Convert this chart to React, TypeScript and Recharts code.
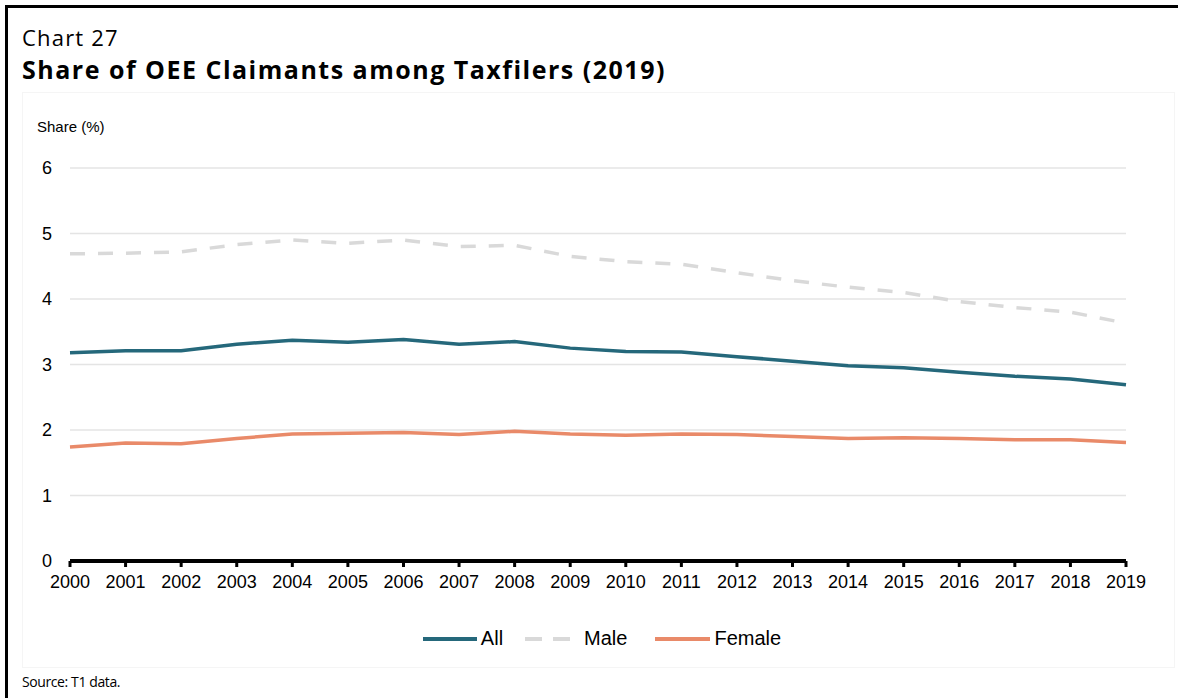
import React from 'react';
import { LineChart, Line, XAxis, YAxis, CartesianGrid, Legend } from 'recharts';

const years = ['2000', '2001', '2002', '2003', '2004', '2005', '2006', '2007', '2008', '2009', '2010', '2011', '2012', '2013', '2014', '2015', '2016', '2017', '2018', '2019'];
const allShare = [3.18, 3.21, 3.21, 3.31, 3.37, 3.34, 3.38, 3.31, 3.35, 3.25, 3.20, 3.19, 3.12, 3.05, 2.98, 2.95, 2.88, 2.82, 2.78, 2.69];
const maleShare = [4.69, 4.70, 4.72, 4.83, 4.90, 4.85, 4.90, 4.80, 4.82, 4.65, 4.57, 4.53, 4.40, 4.28, 4.18, 4.10, 3.96, 3.87, 3.80, 3.63];
const femaleShare = [1.74, 1.80, 1.79, 1.87, 1.94, 1.95, 1.96, 1.93, 1.98, 1.94, 1.92, 1.94, 1.93, 1.90, 1.87, 1.88, 1.87, 1.85, 1.85, 1.81];
const yTicks = [0, 1, 2, 3, 4, 5, 6];

const data = years.map((year, i) => ({
    year,
    all: allShare[i],
    male: maleShare[i],
    female: femaleShare[i],
}));

const TEAL = '#25687b';
const GREY = '#d9d9d9';
const SALMON = '#e98a69';
const AXIS_FONT = '"Liberation Sans", Arial, sans-serif';

const legendItems = [
    { label: 'All', color: TEAL, dash: undefined as string | undefined, iconW: 54, iconGap: 4, after: 22 },
    { label: 'Male', color: GREY, dash: '17 11', iconW: 45, iconGap: 14, after: 28 },
    { label: 'Female', color: SALMON, dash: undefined as string | undefined, iconW: 55, iconGap: 4, after: 0 },
];

function ChartLegend() {
    return (
        <div style={{ display: 'flex', justifyContent: 'center', alignItems: 'center', paddingLeft: 26, fontFamily: AXIS_FONT, fontSize: 20, color: '#000' }}>
            {legendItems.map((item) => (
                <div key={item.label} style={{ display: 'flex', alignItems: 'center', marginRight: item.after }}>
                    <svg width={item.iconW} height={10} style={{ marginRight: item.iconGap }}>
                        <line x1={0} y1={5} x2={item.iconW} y2={5} stroke={item.color} strokeWidth={4} strokeDasharray={item.dash} />
                    </svg>
                    <span>{item.label}</span>
                </div>
            ))}
        </div>
    );
}

export default function App() {
    return (
        <div style={{ position: 'absolute', left: 0, top: 0, width: 1178, height: 698, background: '#fff', overflow: 'hidden' }}>
            {/* frame */}
            <div style={{ position: 'absolute', left: 5, top: 5, width: 1173, height: 3, background: '#000' }} />
            <div style={{ position: 'absolute', left: 5, top: 5, width: 3, height: 693, background: '#000' }} />
            <div style={{ position: 'absolute', left: 22, top: 92, width: 1153, height: 576, border: '1px solid #f5f5f5', boxSizing: 'border-box' }} />

            <div style={{ position: 'absolute', left: 22, top: 26, fontFamily: '"Open Sans", sans-serif', fontSize: 22, letterSpacing: 1.2, lineHeight: 1, color: '#000' }}>
                Chart 27
            </div>
            <div style={{ position: 'absolute', left: 22, top: 57, fontFamily: '"Open Sans", sans-serif', fontWeight: 700, fontSize: 25, letterSpacing: 1.5, lineHeight: 1, color: '#000' }}>
                Share of OEE Claimants among Taxfilers (2019)
            </div>
            <div style={{ position: 'absolute', left: 37, top: 119, fontFamily: AXIS_FONT, fontSize: 15, lineHeight: 1, color: '#000' }}>
                Share (%)
            </div>
            <div style={{ position: 'absolute', left: 22, top: 675, fontFamily: '"Open Sans", sans-serif', fontSize: 14, letterSpacing: -0.4, lineHeight: 1, color: '#000' }}>
                Source: T1 data.
            </div>

            <div style={{ position: 'absolute', left: 0, top: 0 }}>
                <LineChart width={1178} height={698} data={data} margin={{ top: 168, right: 52, bottom: 107, left: 20 }}>
                    <CartesianGrid vertical={false} stroke="#e4e4e4" strokeWidth={1.5} />
                    <XAxis
                        dataKey="year"
                        interval={0}
                        height={30}
                        axisLine={{ stroke: '#000', strokeWidth: 4 }}
                        tickLine={{ stroke: '#000', strokeWidth: 3 }}
                        tickSize={6}
                        tickMargin={8}
                        tick={{ fill: '#000', fontSize: 18, fontFamily: AXIS_FONT }}
                    />
                    <YAxis
                        width={50}
                        domain={[0, 6]}
                        ticks={yTicks}
                        axisLine={false}
                        tickLine={false}
                        tickSize={0}
                        tickMargin={18}
                        tick={{ fill: '#000', fontSize: 18, fontFamily: AXIS_FONT }}
                    />
                    <Legend
                        verticalAlign="middle"
                        align="center"
                        wrapperStyle={{ top: 627, left: 0, width: 1178 }}
                        content={() => <ChartLegend />}
                    />
                    <Line dataKey="all" name="All" stroke={TEAL} strokeWidth={3.5} dot={false} isAnimationActive={false} />
                    <Line dataKey="male" name="Male" stroke={GREY} strokeWidth={3.5} strokeDasharray="15 13" dot={false} isAnimationActive={false} />
                    <Line dataKey="female" name="Female" stroke={SALMON} strokeWidth={3.5} dot={false} isAnimationActive={false} />
                </LineChart>
            </div>
        </div>
    );
}
